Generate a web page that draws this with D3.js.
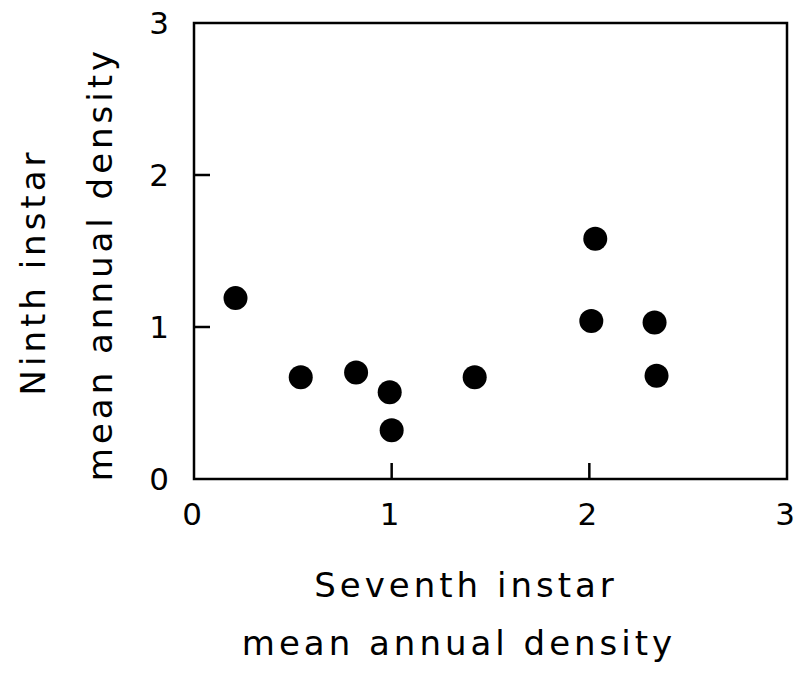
<!DOCTYPE html>
<html lang="en">
<head>
    <meta charset="UTF-8">
    <title>Seventh vs ninth instar density</title>
    <script src="https://d3js.org/d3.v7.min.js"></script>
    <style>
        body { margin: 0; background: #fff; }
        text { font-family: "DejaVu Sans", sans-serif; fill: #000; }
        .tick-label { font-size: 31px; }
        .axis-title { font-size: 34px; letter-spacing: 4px; }
    </style>
</head>
<body>
    <div id="chart"></div>

    <script>
        // Data
        const seventh = [0.21, 0.54, 0.82, 0.99, 1.00, 1.42, 2.03, 2.01, 2.33, 2.34];
        const ninth   = [1.19, 0.67, 0.70, 0.57, 0.32, 0.67, 1.58, 1.04, 1.03, 0.68];
        const xTicks = [0, 1, 2, 3];
        const yTicks = [0, 1, 2, 3];

        const W = 803, H = 682;
        const margin = {top: 23, right: 16, bottom: 203, left: 194};
        const width = W - margin.left - margin.right;
        const height = H - margin.top - margin.bottom;

        const svg = d3.select("#chart")
            .append("svg")
            .attr("width", W)
            .attr("height", H);

        const g = svg.append("g")
            .attr("transform", `translate(${margin.left},${margin.top})`);

        const x = d3.scaleLinear().domain([0, 3]).range([0, width]);
        const y = d3.scaleLinear().domain([0, 3]).range([height, 0]);

        // frame
        g.append("rect")
            .attr("x", 0).attr("y", 0)
            .attr("width", width).attr("height", height)
            .attr("fill", "none")
            .attr("stroke", "#000")
            .attr("stroke-width", 2.5);

        // inward ticks (interior values only)
        const tickLen = 16;
        g.selectAll(".xtick")
            .data(xTicks.filter(d => d > 0 && d < 3))
            .join("line")
            .attr("x1", d => x(d)).attr("x2", d => x(d))
            .attr("y1", height).attr("y2", height - tickLen)
            .attr("stroke", "#000").attr("stroke-width", 2.5);

        g.selectAll(".ytick")
            .data(yTicks.filter(d => d > 0 && d < 3))
            .join("line")
            .attr("x1", 0).attr("x2", tickLen)
            .attr("y1", d => y(d)).attr("y2", d => y(d))
            .attr("stroke", "#000").attr("stroke-width", 2.5);

        // tick labels
        g.selectAll(".xlab")
            .data(xTicks)
            .join("text")
            .attr("class", "tick-label")
            .attr("x", d => x(d) - 2)
            .attr("y", height + 46)
            .attr("text-anchor", "middle")
            .text(d => d);

        g.selectAll(".ylab")
            .data(yTicks)
            .join("text")
            .attr("class", "tick-label")
            .attr("x", -25)
            .attr("y", d => y(d) + 11)
            .attr("text-anchor", "end")
            .text(d => d);

        // points
        g.selectAll("circle")
            .data(seventh.map((v, i) => [v, ninth[i]]))
            .join("circle")
            .attr("cx", d => x(d[0]))
            .attr("cy", d => y(d[1]))
            .attr("r", 12)
            .attr("fill", "#000");

        // axis titles
        svg.append("text")
            .attr("class", "axis-title")
            .attr("x", 466).attr("y", 597)
            .attr("text-anchor", "middle")
            .text("Seventh instar");
        svg.append("text")
            .attr("class", "axis-title")
            .attr("x", 459).attr("y", 655)
            .attr("text-anchor", "middle")
            .text("mean annual density");

        svg.append("text")
            .attr("class", "axis-title")
            .attr("transform", "translate(45,272) rotate(-90)")
            .attr("text-anchor", "middle")
            .text("Ninth instar");
        svg.append("text")
            .attr("class", "axis-title")
            .attr("transform", "translate(112,264) rotate(-90)")
            .attr("text-anchor", "middle")
            .text("mean annual density");
    </script>
</body>
</html>
